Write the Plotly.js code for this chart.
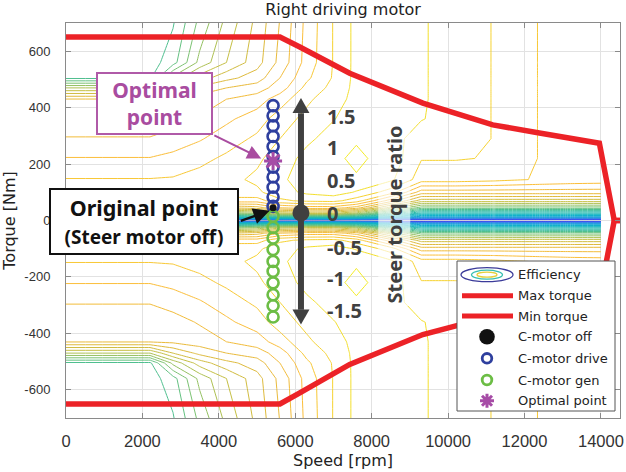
<!DOCTYPE html>
<html><head><meta charset="utf-8">
<script src="https://cdn.plot.ly/plotly-3.0.1.min.js"></script>
<style>html,body{margin:0;padding:0;background:#fff}#chart{width:626px;height:472px}</style>
</head><body><div id="chart"></div>
<script>
// ---- efficiency map (torque >= 0 half, map is mirror-symmetric) ----
const mapSpeed = [0, 2200, 2800, 3500, 4200, 5000, 5600, 6300, 7000, 7600, 8500, 9300, 10200, 11200, 12400, 13200, 14000];
const mapTorqueHalf = [0, 4, 12, 25, 45, 70, 100, 145, 220, 290, 360, 430, 470, 505, 560, 700];
const effHalf = [
  [45,45,45,45,45,45,45,45,45,45,45,45,45,45,45,45,45],
  [64,64,64,64,64,64.5,65,65,65,64.5,63.5,63,63,63,63,63,63],
  [71,71,71,71,71,72,73,73,73,72,69,67,67,67,67,67,67],
  [77,77,77,77,77,78,79.5,80,80,78.5,74.5,71.5,71.5,71.5,71.5,71.5,71.5],
  [82,82,82,82,82,82.5,84,84.5,84.5,83.5,79.5,76.5,76.5,76.5,76.5,76.5,76.5],
  [85.9,85.9,85.9,85.8,85.6,85.5,86.8,87.2,87.3,86.5,83.5,80.5,80.5,80.5,80.5,80.5,80.5],
  [86.6,86.6,86.6,86.6,86.6,86.8,87.6,88.2,88.5,87.9,86.5,83.5,83.5,83.5,83.5,83.5,83.5],
  [86.05,86.05,86.1,86.4,86.7,87.2,87.8,88.5,89,88.9,88.2,86.5,86.5,86.3,85.9,85.7,85.6],
  [85.05,85.05,85.3,85.7,86.2,86.8,87.5,88.3,88.8,89.2,88.6,87.05,87.05,86.95,85.95,85.7,85.6],
  [84.05,84.05,84.4,84.9,85.5,86.2,87,87.8,88.4,88.9,88.4,87.5,87.6,86.95,85.95,85.7,85.6],
  [83.5,83.5,83.6,84.1,84.8,85.5,86.5,87.3,87.95,88.5,88.3,88.05,87.6,86.95,85.95,85.7,85.6],
  [83.05,83.05,83.2,83.5,84,84.5,85.5,86.8,87.6,88.3,88.5,88.1,87.6,86.95,85.95,85.7,85.6],
  [79,79,81,82.3,83,83.5,84.5,86.3,87.3,88.3,88.5,88.1,87.6,86.95,85.95,85.7,85.6],
  [74.8,74.8,78.3,80.5,81.7,82.5,84,85.8,87.1,88.3,88.5,88.1,87.6,86.95,85.95,85.7,85.6],
  [74.5,74.5,75.6,78.3,80,81.6,83.3,85.4,87.05,88.3,88.5,88.1,87.6,86.95,85.95,85.7,85.6],
  [74.5,74.5,74.9,77.3,79.3,81.3,83.05,85.3,87.05,88.3,88.5,88.1,87.6,86.95,85.95,85.7,85.6]
];

// ---- torque envelope ----
const envSpeed = [0, 5600, 6120, 7425, 9340, 11170, 12390, 13960, 14350, 14500];
const maxTorque = [650, 650, 615, 522, 416, 339, 310, 274, 0, 0];
const minTorque = [-650, -650, -611, -510, -404, -339, -310, -274, 0, 0];

// ---- operating points ----
const pointSpeed = 5420;
const driveTorque = [407, 371, 336, 298, 262, 227, 189, 154, 118, 83, 50];
const genTorque = [15, -25, -62, -103, -145, -180, -221, -263, -302, -342];
const offPoint = {speed: [5420], torque: [45]};
const optimalPoint = {speed: [5420], torque: [211]};

// ---- steer torque ratio scale ----
const ratioSpeed = 6150;
const ratioArrowTop = 434, ratioArrowBottom = -369;
const ratioZeroTorque = 27;
const ratioLabels = ['1.5', '1', '0.5', '0', '-0.5', '-1', '-1.5'];
const ratioLabelTorque = [368, 258, 143, 24, -96, -206, -319];

const xTicks = [0, 2000, 4000, 6000, 8000, 10000, 12000, 14000];
const xTickText = ['0', '2000', '4000', '6000', '8000', '10000', '12000', '14000'];
const yTicks = [-600, -400, -200, 0, 200, 400, 600];
const yTickText = ['-600', '-400', '-200', '0', '200', '400', '600'];

// build full symmetric map
const mapTorque = mapTorqueHalf.slice(1).reverse().map(t => -t).concat(mapTorqueHalf);
const effFull = effHalf.slice(1).reverse().concat(effHalf);

const parula = [[0,'#3e26a8'],[0.1,'#4650f2'],[0.2,'#2094e0'],[0.32,'#0cb4c8'],[0.45,'#2fbba4'],[0.55,'#6ec27a'],
  [0.66,'#c2bf45'],[0.75,'#e4b93a'],[0.83,'#fbbd3a'],[0.9,'#f6d230'],[0.95,'#f1e52a'],[1,'#f9fb0e']];

const RED = '#ec2227', BLUE = '#2e3f9e', GREEN = '#6cbd45', PURPLE = '#a64ca6', GREY = '#404040';

const traces = [
  {type:'contour', x: mapSpeed, y: mapTorque, z: effFull, zauto:false, zmin:60, zmax:90,
   autocontour:false, contours:{start:60, end:96, size:1, coloring:'lines'},
   line:{width:1, smoothing:0}, colorscale: parula, showscale:false, hoverinfo:'skip', name:'Efficiency'},
  {type:'scatter', mode:'lines', x: envSpeed, y: maxTorque, line:{color:RED, width:5.5}, name:'Max torque'},
  {type:'scatter', mode:'lines', x: envSpeed, y: minTorque, line:{color:RED, width:5.5}, name:'Min torque'},
  {type:'scatter', mode:'markers', x:[ratioSpeed], y:[ratioZeroTorque], marker:{color:GREY, size:17}, hoverinfo:'skip'},
  {type:'scatter', mode:'markers', x: driveTorque.map(() => pointSpeed), y: driveTorque, name:'C-motor drive',
   marker:{symbol:'circle-open', size:11, color:BLUE, line:{width:2.6, color:BLUE}}},
  {type:'scatter', mode:'markers', x: genTorque.map(() => pointSpeed), y: genTorque, name:'C-motor gen',
   marker:{symbol:'circle-open', size:11, color:GREEN, line:{width:2.6, color:GREEN}}},
  {type:'scatter', mode:'markers', x: offPoint.speed, y: offPoint.torque, name:'C-motor off',
   marker:{symbol:'circle', size:7, color:'#111'}},
  {type:'scatter', mode:'markers', x: optimalPoint.speed, y: optimalPoint.torque, name:'Optimal point',
   marker:{symbol:'asterisk-open', size:15, color:PURPLE, line:{width:3, color:PURPLE}}}
];

// pixel helpers for legend placement (plot area 66..620 x 23..418)
const PL = 66, PR = 620, PT = 23, PB = 418;
const px = v => (v - PL) / (PR - PL);
const py = v => (PB - v) / (PB - PT);

const shapes = [
  // steer torque ratio arrow
  {type:'line', xref:'x', yref:'y', x0: ratioSpeed, x1: ratioSpeed, y0: -316, y1: 380, line:{color:GREY, width:6}},
  {type:'path', xref:'x', yref:'y', xsizemode:'pixel', ysizemode:'pixel', xanchor: ratioSpeed, yanchor: ratioArrowTop,
   path:'M-8.5,-15 L8.5,-15 L0,0 Z', fillcolor:GREY, line:{width:0}},
  {type:'path', xref:'x', yref:'y', xsizemode:'pixel', ysizemode:'pixel', xanchor: ratioSpeed, yanchor: ratioArrowBottom,
   path:'M-8.5,15 L8.5,15 L0,0 Z', fillcolor:GREY, line:{width:0}},
  // legend box
  {type:'rect', xref:'paper', yref:'paper', x0: px(457), x1: px(615), y0: py(411), y1: py(261), fillcolor:'#fff', line:{color:'#555', width:1}},
  // efficiency icon
  {type:'circle', xref:'paper', yref:'paper', xsizemode:'pixel', ysizemode:'pixel', xanchor: px(487), yanchor: py(274.7), x0:-26, x1:26, y0:-7, y1:7, line:{color:'#3b3b9a', width:1.3}},
  {type:'circle', xref:'paper', yref:'paper', xsizemode:'pixel', ysizemode:'pixel', xanchor: px(487), yanchor: py(274.7), x0:-15.5, x1:15.5, y0:-4.5, y1:4.5, line:{color:'#38bfb1', width:1.3}},
  {type:'circle', xref:'paper', yref:'paper', xsizemode:'pixel', ysizemode:'pixel', xanchor: px(487), yanchor: py(274.7), x0:-10, x1:10, y0:-2.5, y1:2.5, line:{color:'#e5cf3a', width:1.3}},
  // max / min torque icons
  {type:'line', xref:'paper', yref:'paper', x0: px(462), x1: px(513), y0: py(295.7), y1: py(295.7), line:{color:RED, width:5}},
  {type:'line', xref:'paper', yref:'paper', x0: px(462), x1: px(513), y0: py(316), y1: py(316), line:{color:RED, width:5}},
  // C-motor off icon
  {type:'circle', xref:'paper', yref:'paper', xsizemode:'pixel', ysizemode:'pixel', xanchor: px(487), yanchor: py(336.7), x0:-7.8, x1:7.8, y0:-7.8, y1:7.8, fillcolor:'#111', line:{width:0}},
  // drive / gen icons
  {type:'circle', xref:'paper', yref:'paper', xsizemode:'pixel', ysizemode:'pixel', xanchor: px(487), yanchor: py(358.3), x0:-4.8, x1:4.8, y0:-4.8, y1:4.8, line:{color:BLUE, width:2.8}},
  {type:'circle', xref:'paper', yref:'paper', xsizemode:'pixel', ysizemode:'pixel', xanchor: px(487), yanchor: py(380), x0:-4.8, x1:4.8, y0:-4.8, y1:4.8, line:{color:GREEN, width:2.8}},
  // optimal point icon (asterisk)
  {type:'path', xref:'paper', yref:'paper', xsizemode:'pixel', ysizemode:'pixel', xanchor: px(487), yanchor: py(400.7),
   path:'M-7,0L7,0M0,-7L0,7M-5,-5L5,5M-5,5L5,-5', line:{color:PURPLE, width:3}}
];

const legendText = ['Efficiency', 'Max torque', 'Min torque', 'C-motor off', 'C-motor drive', 'C-motor gen', 'Optimal point'];
const legendRowY = [274.7, 295.7, 316, 336.7, 358.3, 380, 400.7];

const annFont = 'Noto Sans';
const annotations = [
  {xref:'x', yref:'y', x: 2314, y: 416, showarrow:false, text:'<b>Optimal<br>point</b>',
   font:{family:annFont, size:21, color:'#a94ca0'}, bgcolor:'#fff', bordercolor:'#b05aa8', borderwidth:2, borderpad:0, width:113, height:59},
  {xref:'x', yref:'y', x: 5110, y: 220, ax: 3843, ay: 304, axref:'x', ayref:'y', text:'', showarrow:true,
   arrowhead:2, arrowsize:1.4, arrowwidth:2, arrowcolor:'#a94ca0'},
  {xref:'x', yref:'y', x: 2039, y: -4, showarrow:false,
   text:'<b>Original point</b><br><b><span style="font-size:19px">(Steer motor off)</span></b>',
   font:{family:annFont, size:21.5, color:'#111'}, bgcolor:'#fff', bordercolor:'#111', borderwidth:2, borderpad:0, width:186, height:63},
  {xref:'x', yref:'y', x: 5330, y: 35, ax: 4536, ay: -3, axref:'x', ayref:'y', text:'', showarrow:true,
   arrowhead:2, arrowsize:1.3, arrowwidth:2.5, arrowcolor:'#111'},
  {xref:'x', yref:'y', x: 8601, y: 20, showarrow:false, textangle:-90, text:'<b>Steer torque ratio</b>',
   font:{family:annFont, size:20, color:GREY}, bgcolor:'rgba(255,255,255,0.65)', borderpad:2}
];
ratioLabels.forEach((t, i) => annotations.push({xref:'x', yref:'y', x: 6771, y: ratioLabelTorque[i], xanchor:'left', showarrow:false,
  text:'<b>' + t + '</b>', font:{family:annFont, size:20, color:GREY}}));
legendText.forEach((t, i) => annotations.push({xref:'paper', yref:'paper', x: px(516), y: py(legendRowY[i]), xanchor:'left', yanchor:'middle',
  showarrow:false, text:t, font:{family:'DejaVu Sans', size:13, color:'#222'}}));

const axisCommon = {ticks:'inside', ticklen:5, tickcolor:'#8a8a8a', tickwidth:1, mirror:'ticks', showline:true, linecolor:'#8a8a8a', linewidth:1,
  showgrid:true, gridcolor:'#e2e2e2', gridwidth:1, zeroline:false, automargin:false};

const layout = {
  width:626, height:472, margin:{l:66, r:6, t:23, b:54}, paper_bgcolor:'#fff', plot_bgcolor:'#fff', showlegend:false,
  title:{text:'Right driving motor', font:{family:'DejaVu Sans', size:16, color:'#222'}, x:0.5, xref:'paper', xanchor:'center', y:0.98, yref:'container', yanchor:'middle'},
  xaxis: Object.assign({}, axisCommon, {range:[0, 14500], tickvals:xTicks, ticktext:xTickText, ticklabelstandoff:8,
    tickfont:{family:'Liberation Sans', size:16.5, color:'#333'},
    title:{text:'Speed [rpm]', font:{family:'DejaVu Sans', size:16, color:'#222'}, standoff:6}}),
  yaxis: Object.assign({}, axisCommon, {range:[-700, 700], tickvals:yTicks, ticktext:yTickText, ticklabelstandoff:12,
    tickfont:{family:'Liberation Sans', size:13, color:'#333'},
    title:{text:'Torque [Nm]', font:{family:'DejaVu Sans', size:16, color:'#222'}, standoff:10}}),
  shapes: shapes, annotations: annotations
};

Plotly.newPlot('chart', traces, layout, {displayModeBar:false, staticPlot:true});
</script></body></html>
